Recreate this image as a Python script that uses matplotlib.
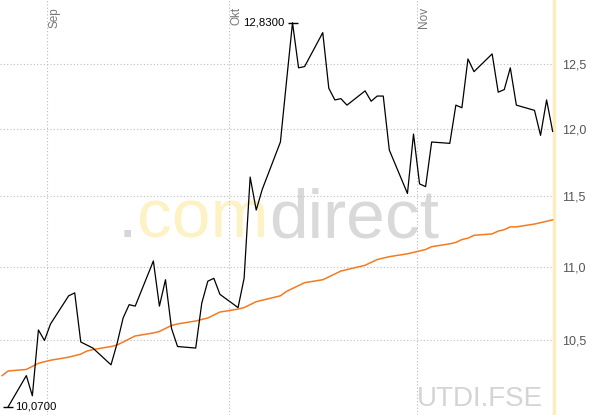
import matplotlib
matplotlib.use("Agg")
import matplotlib.pyplot as plt
import matplotlib.dates as mdates
from matplotlib.ticker import FixedLocator, NullLocator
import pandas as pd

plt.rcParams['font.family'] = ['Liberation Sans', 'DejaVu Sans']

# Schlusskurse UTDI.FSE, Handelstage 25.08. - 23.11.
kurs_tage = pd.bdate_range("2023-08-25", "2023-11-23")
kurse = [10.07, 10.27, 10.14, 10.57, 10.50,
         10.61, 10.80, 10.82, 10.49, 10.47, 10.45, 10.34, 10.48, 10.65, 10.74, 10.73,
         11.04, 10.73, 10.91, 10.58, 10.46, 10.45, 10.75, 10.90, 10.92, 10.81,
         10.72, 10.92, 11.64, 11.40, 11.55, 11.90, 12.36, 12.83, 12.47, 12.48,
         12.75, 12.31, 12.22, 12.23, 12.18, 12.29, 12.21, 12.25, 12.25, 11.84, 11.52, 11.96,
         11.59, 11.57, 11.90, 11.89, 12.18, 12.16, 12.54, 12.44, 12.58, 12.28, 12.30,
         12.47, 12.18, 12.14, 11.95, 12.22, 11.98]

# gleitender Durchschnitt
gd_tage = pd.bdate_range("2023-08-24", "2023-11-23")
gd = [10.27, 10.30, 10.31, 10.33, 10.35, 10.36,
      10.37, 10.39, 10.40, 10.41, 10.43, 10.44, 10.46, 10.47, 10.49, 10.51, 10.53,
      10.55, 10.56, 10.58, 10.60, 10.61, 10.63, 10.64, 10.65, 10.67, 10.69,
      10.71, 10.72, 10.74, 10.76, 10.77, 10.80, 10.83, 10.85, 10.87, 10.89,
      10.91, 10.93, 10.95, 10.97, 10.98, 11.01, 11.03, 11.05, 11.06, 11.07, 11.09, 11.10,
      11.11, 11.12, 11.14, 11.16, 11.17, 11.19, 11.20, 11.22, 11.23, 11.25, 11.26,
      11.28, 11.28, 11.30, 11.31, 11.32, 11.33]

monate = ["2023-09-01", "2023-10-01", "2023-11-01"]
monat_labels = ["Sep", "Okt", "Nov"]
y_ticks = [10.5, 11.0, 11.5, 12.0, 12.5]
y_labels = ["10,5", "11,0", "11,5", "12,0", "12,5"]

W, H = 597, 415
fig = plt.figure(figsize=(W / 100, H / 100), dpi=100)
ax = fig.add_axes([0, 0, 553.5 / W, 1])

x_kurs = [mdates.date2num(d) + 0.5 for d in kurs_tage]
x_gd = [mdates.date2num(d) + 0.5 for d in gd_tage]
sep = mdates.date2num(pd.Timestamp(monate[0]))

ax.set_yscale('log')
ax.set_ylim(10.018, 13.015)
ax.set_xlim(sep - 7.85, sep + 83.64)

for s in ax.spines.values():
    s.set_visible(False)

ax.yaxis.tick_right()
ax.yaxis.set_major_locator(FixedLocator(y_ticks))
ax.yaxis.set_minor_locator(NullLocator())
ax.set_yticklabels(y_labels)
ax.tick_params(axis='y', length=0, pad=6, labelsize=9, labelcolor='#555555')
ax.set_xticks([])

for v in y_ticks:
    ax.axhline(v, color='#bdbdbd', lw=0.8, ls=(0, (1, 2)), zorder=1)
for m, lab in zip(monate, monat_labels):
    xm = mdates.date2num(pd.Timestamp(m))
    ax.axvline(xm, color='#b8b8c8', lw=0.8, ls=(0, (1, 2)), zorder=1)
    ax.annotate(lab, xy=(xm, 1), xycoords=('data', 'axes fraction'),
                xytext=(1, -5), textcoords='offset points', rotation=90,
                ha='left', va='top', fontsize=8.5, color='#777777')

# rechter Rand
ax.axvline(ax.get_xlim()[1], color='#fcedba', lw=2.4, clip_on=False, zorder=2)

# Wasserzeichen
fig.canvas.draw()
r = fig.canvas.get_renderer()
teile = [(".", '#d6d6d6'), ("com", '#fdf2c4'), ("direct", '#d9d9d9')]
xpos = 118 / 553.5
for txt, col in teile:
    t = ax.text(xpos, 1 - 237 / H, txt, transform=ax.transAxes, fontsize=50,
                color=col, ha='left', va='baseline', zorder=0)
    bb = t.get_window_extent(r)
    xpos = ax.transAxes.inverted().transform((bb.x1, bb.y0))[0]
ax.text(543 / 553.5, 1 - 406 / H, "UTDI.FSE", transform=ax.transAxes,
        fontsize=20, color='#d4d4d4', ha='right', va='baseline', zorder=0)

ax.plot(x_gd, gd, color='#f47a22', lw=1.1, zorder=3)
ax.plot(x_kurs, kurse, color='black', lw=0.9, zorder=4)

i_max = kurse.index(max(kurse))
i_min = kurse.index(min(kurse))
for i, dx, ha in [(i_max, -6, 'right'), (i_min, 5, 'left')]:
    ax.plot(x_kurs[i], kurse[i], marker='_', ms=7.5, mew=1, color='black', zorder=5)
    ax.annotate(f"{kurse[i]:.4f}".replace('.', ','), xy=(x_kurs[i], kurse[i]),
                xytext=(dx, 0), textcoords='offset points', ha=ha, va='center',
                fontsize=8.2, color='black')

fig.savefig("out.png", dpi=100)
